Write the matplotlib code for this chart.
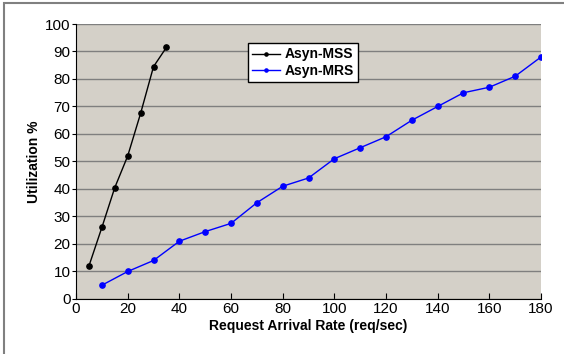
import matplotlib
matplotlib.use("Agg")
import matplotlib.pyplot as plt
from matplotlib.patches import Rectangle

plt.rcParams['font.family'] = ['Liberation Sans', 'DejaVu Sans']

# arrival rate (req/sec) vs utilization (%)
mss_rate = [5, 10, 15, 20, 25, 30, 35]
mss_util = [12, 26, 40.5, 52, 67.5, 84.5, 91.5]

mrs_rate = [10, 20, 30, 40, 50, 60, 70, 80, 90, 100, 110, 120, 130, 140, 150, 160, 170, 180]
mrs_util = [5, 10, 14, 21, 24.5, 27.5, 35, 41, 44, 51, 55, 59, 65, 70, 75, 77, 81, 88]

x_ticks = list(range(0, 181, 20))
y_ticks = list(range(0, 101, 10))

fig = plt.figure(figsize=(5.64, 3.54), dpi=100)
ax = fig.add_axes([0.1348, 0.1554, 0.8244, 0.7768])
ax.set_facecolor('#d4d0c8')

ax.plot(mss_rate, mss_util, '-o', color='black', lw=1, ms=3.8, label='Asyn-MSS')
ax.plot(mrs_rate, mrs_util, '-o', color='blue', lw=1, ms=3.8, label='Asyn-MRS')

ax.set_xlim(0, 180)
ax.set_ylim(0, 100)
ax.set_xticks(x_ticks)
ax.set_yticks(y_ticks)
ax.tick_params(axis='x', direction='in', length=4, labelsize=11, pad=2)
ax.tick_params(axis='y', direction='out', length=3, labelsize=11, pad=1)
ax.yaxis.grid(True, color='#7f7f7f', lw=1)
ax.set_axisbelow(True)

for side in ['top', 'right']:
    ax.spines[side].set_visible(False)
ax.spines['left'].set_color('black')
ax.spines['bottom'].set_color('black')

ax.set_xlabel('Request Arrival Rate (req/sec)', fontsize=10, fontweight='bold', labelpad=2)
ax.set_ylabel('Utilization %', fontsize=10, fontweight='bold', labelpad=3)

leg = ax.legend(loc='upper left', bbox_to_anchor=(0.37, 0.93), borderaxespad=0,
                fancybox=False, framealpha=1, edgecolor='black',
                prop={'weight': 'bold', 'size': 10}, handlelength=2.0,
                handletextpad=0.3, borderpad=0.3, labelspacing=0.2, markerscale=0.6)
leg.get_frame().set_linewidth(1)

# outer chart border
fig.patches.append(Rectangle((4 / 564, -0.5), 2, 1.5 - 3 / 354, transform=fig.transFigure,
                             fill=False, edgecolor='#808080', lw=1.5))

fig.savefig('out.png', dpi=100)
